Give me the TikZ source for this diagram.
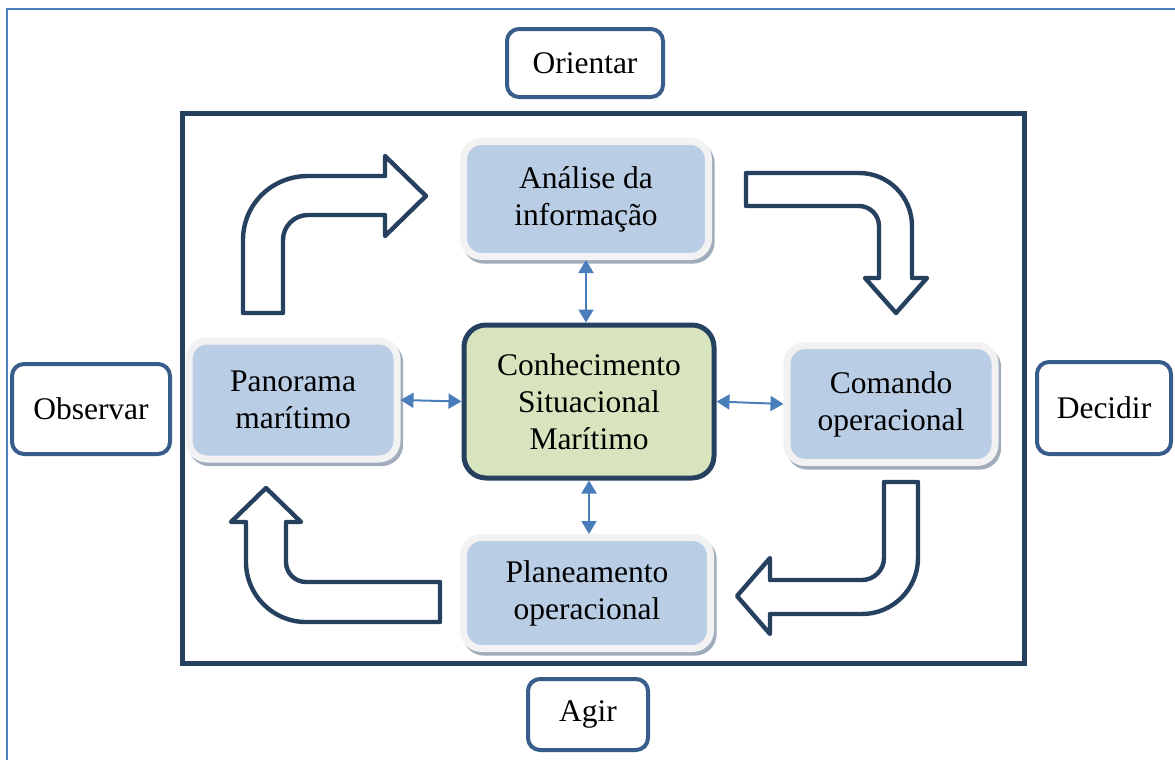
\documentclass[tikz,border=0pt]{standalone}
\usepackage{fontspec}
\setmainfont{Liberation Serif}
\usepackage{xcolor}
\usepackage{tikz}
\usetikzlibrary {arrows.meta,shadows}
\definecolor{navy}{RGB}{38,64,96}
\definecolor{boxline}{RGB}{56,93,138}
\definecolor{infoblue}{RGB}{185,205,229}
\definecolor{csmgreen}{RGB}{215,228,189}
\definecolor{framegrey}{RGB}{242,242,242}
\definecolor{shadowgrey}{RGB}{160,172,188}
\definecolor{linkblue}{RGB}{74,126,187}
\definecolor{pageblue}{RGB}{79,129,189}

\begin{document}
\begin{tikzpicture}[x=0.5pt, y=-0.5pt, font=\fontsize{15.75}{18.5}\selectfont,
  bluebox/.style={rounded corners=9pt, fill=infoblue, draw=framegrey, line width=3.5pt,
    align=center, inner sep=0pt,
    drop shadow={shadow xshift=1.3pt, shadow yshift=-1.8pt, fill=shadowgrey,
      draw=shadowgrey, line width=3.5pt, opacity=1}},
  phase/.style={rounded corners=6pt, fill=white, draw=boxline, line width=2pt, inner sep=0pt},
  blockarrow/.style={draw=navy, fill=white, line width=2.2pt, line join=round},
  link/.style={{Triangle[length=6.5pt,width=7.5pt]}-{Triangle[length=6.5pt,width=7.5pt]},
    draw=linkblue, line width=1pt}]

\useasboundingbox (0,0) rectangle (1175,760);
\draw[pageblue, line width=0.75pt] (7,780) -- (7,9) -- (1190,9);
\draw[navy, line width=2.5pt] (182,113) rectangle (1024,663);

% ciclo
\draw[blockarrow] (243,313) -- (283,313) -- (283,240) .. controls (283,226.2) and (294.2,215) .. (308,215)
  -- (385,215) -- (385,236) -- (426,196) -- (385,156) -- (385,176) -- (308,176)
  .. controls (272.1,176) and (243,204.1) .. (243,240) -- cycle;
\draw[blockarrow] (746,173) -- (859,173) .. controls (888.3,173) and (912,196.7) .. (912,226)
  -- (912,278) -- (927,278) -- (896,313) -- (865,278) -- (879,278) -- (879,226)
  .. controls (879,215) and (870,206) .. (859,206) -- (746,206) -- cycle;
\draw[blockarrow] (884,482) -- (918,482) -- (918,558) .. controls (918,588.9) and (892.9,614) .. (862,614)
  -- (770,614) -- (770,634) -- (737,596) -- (770,558) -- (770,580) -- (862,580)
  .. controls (874.1,580) and (884,570.1) .. (884,558) -- cycle;
\draw[blockarrow] (440,582) -- (440,622) -- (306,622) .. controls (272.9,622) and (246,595.1) .. (246,562)
  -- (246,522) -- (231,522) -- (266,488) -- (301,522) -- (286,522) -- (286,562)
  .. controls (286,573) and (295,582) .. (306,582) -- cycle;

\node (csm) at (589,401.5) [rounded corners=11pt, fill=csmgreen, draw=navy, line width=2.5pt,
  align=center, inner sep=0pt, minimum width=125pt, minimum height=76.5pt]{Conhecimento\\Situacional\\Marítimo};
\node (ana) at (586,199) [bluebox, minimum width=122.5pt, minimum height=57.5pt]{Análise da\\informação};
\node (pan) at (293,400) [bluebox, minimum width=104pt, minimum height=59pt]{Panorama\\marítimo};
\node (com) at (891,404) [bluebox, minimum width=104pt, minimum height=58.5pt]{Comando\\operacional};
\node (plan) at (587,593) [bluebox, minimum width=123.5pt, minimum height=55.5pt]{Planeamento\\operacional};

\node (ori) at (585,63) [phase, minimum width=78pt, minimum height=34pt]{Orientar};
\node (obs) at (91,409) [phase, minimum width=79pt, minimum height=45pt]{Observar};
\node (dec) at (1104,408) [phase, minimum width=67pt, minimum height=46pt]{Decidir};
\node (agir) at (588,714.5) [phase, minimum width=60pt, minimum height=35.5pt]{Agir};

\draw[link] (ana.south) -- (ana.south |- csm.north);
\draw[link] (csm.south) -- (csm.south |- plan.north);
\draw[link] (pan.east) -- (csm.west);
\draw[link] (csm.east) -- (com.west);

\end{tikzpicture}
\end{document}
